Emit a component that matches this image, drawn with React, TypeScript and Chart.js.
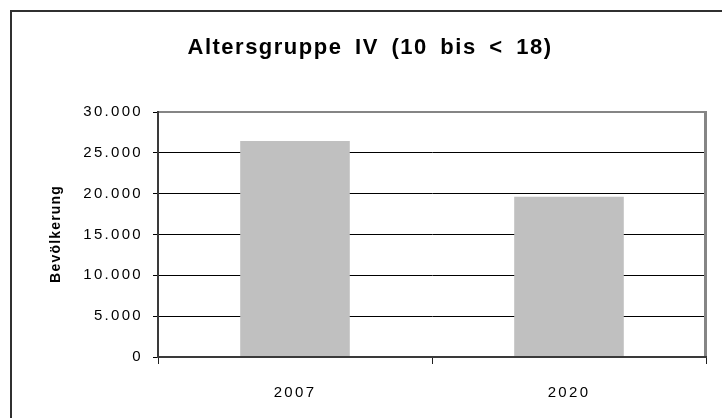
import React, { useEffect, useRef } from 'react';
import { Chart, registerables } from 'chart.js';

Chart.register(...registerables);

const categories = ['2007', '2020'];
const population = [26450, 19630];
const yMin = 0;
const yMax = 30000;
const yStep = 5000;
const chartTitle = 'Altersgruppe IV (10 bis < 18)';
const yAxisTitle = 'Bevölkerung';

const FONT = '"Liberation Sans", Arial, Helvetica, sans-serif';

export default function App() {
  const ref = useRef<HTMLCanvasElement>(null);

  useEffect(() => {
    const canvas = ref.current;
    if (!canvas) return;

    const decor = {
      id: 'decor',
      beforeDraw(chart: any) {
        const ctx = chart.ctx;
        (ctx as any).letterSpacing = '2.3px';
        ctx.save();
        ctx.strokeStyle = '#303030';
        ctx.lineWidth = 2;
        ctx.strokeRect(11, 11, 800, 800);
        ctx.restore();
      },
      afterDatasetsDraw(chart: any) {
        const ctx = chart.ctx;
        const { left, right, top, bottom } = chart.chartArea;
        ctx.save();
        ctx.fillStyle = '#858585';
        ctx.fillRect(left, top - 1, right - left, 2);
        ctx.fillRect(right - 2, top - 1, 3, bottom - top + 1);
        ctx.restore();
      },
      afterDraw(chart: any) {
        const ctx = chart.ctx;
        const { top, bottom } = chart.chartArea;
        ctx.save();
        (ctx as any).letterSpacing = '1.5px';
        (ctx as any).wordSpacing = '5px';
        ctx.font = `bold 22px ${FONT}`;
        ctx.fillStyle = '#000';
        ctx.textAlign = 'center';
        ctx.textBaseline = 'alphabetic';
        ctx.fillText(chartTitle, 370, 54);
        ctx.restore();

        ctx.save();
        (ctx as any).letterSpacing = '1.2px';
        ctx.font = `bold 14px ${FONT}`;
        ctx.fillStyle = '#000';
        ctx.textAlign = 'center';
        ctx.textBaseline = 'middle';
        ctx.translate(56, (top + bottom) / 2);
        ctx.rotate(-Math.PI / 2);
        ctx.fillText(yAxisTitle, 0.6, 0);
        ctx.restore();
        (ctx as any).letterSpacing = '0px';
      },
    };

    const chart = new Chart(canvas, {
      type: 'bar',
      data: {
        labels: categories,
        datasets: [
          {
            data: population,
            backgroundColor: '#c0c0c0',
            borderWidth: 0,
            categoryPercentage: 1,
            barPercentage: 0.4,
          },
        ],
      },
      options: {
        responsive: false,
        animation: false,
        events: [],
        layout: { padding: { top: 112, right: 16, bottom: 0, left: 0 } },
        plugins: {
          legend: { display: false },
          title: { display: false },
          tooltip: { enabled: false },
        },
        scales: {
          x: {
            afterFit(scale: any) {
              scale.height = 61;
            },
            grid: {
              offset: true,
              drawOnChartArea: false,
              drawTicks: true,
              tickLength: 7,
              color: '#202020',
              lineWidth: 1,
            },
            border: { display: true, color: '#3a3a3a', width: 2, z: 1 },
            ticks: {
              color: '#000',
              padding: 20,
              font: { family: FONT, size: 15 },
            },
          },
          y: {
            min: yMin,
            max: yMax,
            afterFit(scale: any) {
              scale.width = 158;
            },
            grid: {
              color: '#000',
              lineWidth: 1,
              drawTicks: true,
              tickLength: 5,
            },
            border: { display: true, color: '#3a3a3a', width: 2, z: 1 },
            ticks: {
              stepSize: yStep,
              color: '#000',
              padding: 10,
              font: { family: FONT, size: 15 },
              callback: (v: any) => Number(v).toLocaleString('de-DE'),
            },
          },
        },
      },
      plugins: [decor],
    });

    return () => chart.destroy();
  }, []);

  return (
    <div style={{ position: 'fixed', left: 0, top: 0, width: 722, height: 418, background: '#fff' }}>
      <canvas ref={ref} width={722} height={418} style={{ display: 'block', width: 722, height: 418 }} />
    </div>
  );
}
